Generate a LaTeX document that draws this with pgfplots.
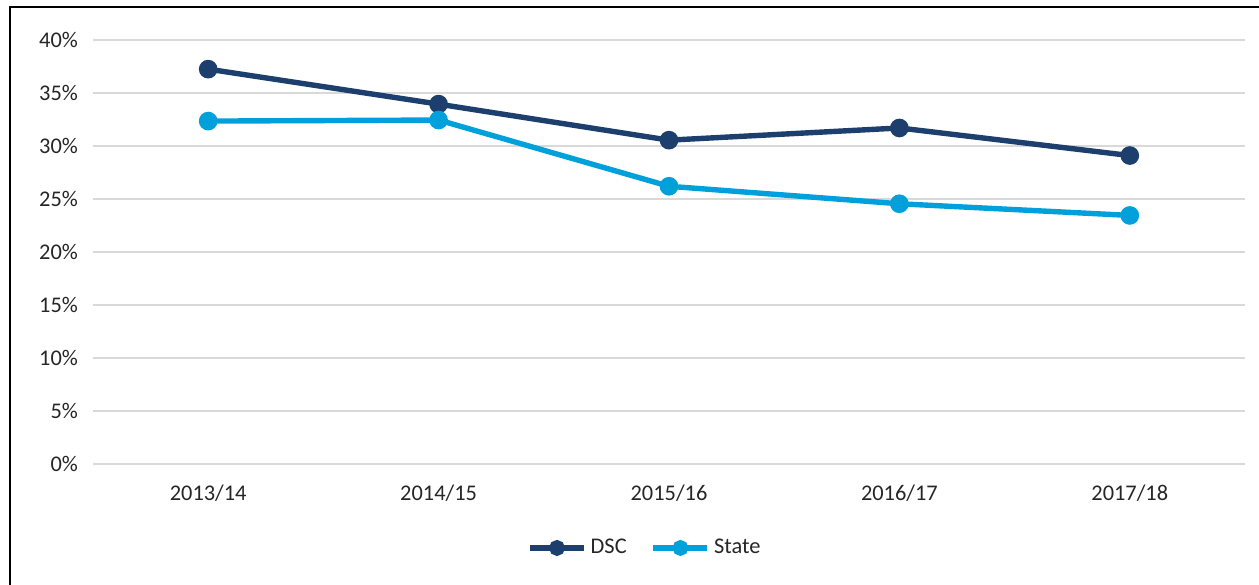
\documentclass[border=0pt]{standalone}
\usepackage{fontspec}
\setmainfont{Carlito}
\usepackage{pgfplots}
\pgfplotsset{compat=1.18}

\definecolor{dsc}{HTML}{1C3F6E}
\definecolor{state}{HTML}{00A1DA}
\definecolor{gridc}{HTML}{D9D9D9}
\definecolor{txt}{HTML}{262626}

\begin{document}
\begin{tikzpicture}
\path[use as bounding box] (0,0) rectangle (629.5pt,292pt);
\draw[black, line width=1.2pt] (5pt,-2pt) -- (5pt,288.5pt) -- (640pt,288.5pt);
\begin{axis}[
    at={(46.5pt,60pt)}, anchor=south west,
    scale only axis,
    width=576pt, height=212pt,
    xmin=-0.5, xmax=4.5,
    ymin=0, ymax=40,
    xtick={0,1,2,3,4},
    xticklabels={2013/14,2014/15,2015/16,2016/17,2017/18},
    ytick={0,5,...,40},
    yticklabel={\pgfmathprintnumber{\tick}\%},
    /pgf/number format/assume math mode=true,
    ymajorgrids=true,
    grid style={gridc, line width=0.8pt},
    axis lines*=left,
    y axis line style={draw=none},
    x axis line style={gridc, line width=0.8pt, -},
    major tick length=0pt,
    tick label style={font=\fontsize{11.2}{13}\selectfont, text=txt},
    xticklabel style={yshift=-7pt},
    yticklabel style={xshift=-4pt},
    legend style={at={(0.48,-0.198)}, anchor=center, draw=none,
        legend columns=2, font=\fontsize{11.2}{13}\selectfont, text=txt,
        /tikz/every even column/.append style={column sep=10pt}},
    legend image code/.code={
        \draw[#1, mark=none] (0pt,0pt) -- (27pt,0pt);
        \draw[#1, only marks, mark size=2.6pt] plot coordinates {(13.5pt,0pt)};
    },
    clip=false,
]
\addplot[dsc, line width=2.7pt, mark=*, mark size=3.3pt, mark options={solid}] coordinates {
    (0,37.25) (1,33.95) (2,30.55) (3,31.7) (4,29.1)
};
\addlegendentry{DSC}
\addplot[state, line width=2.7pt, mark=*, mark size=3.3pt, mark options={solid}] coordinates {
    (0,32.35) (1,32.45) (2,26.2) (3,24.55) (4,23.45)
};
\addlegendentry{State}
\end{axis}
\end{tikzpicture}
\end{document}
